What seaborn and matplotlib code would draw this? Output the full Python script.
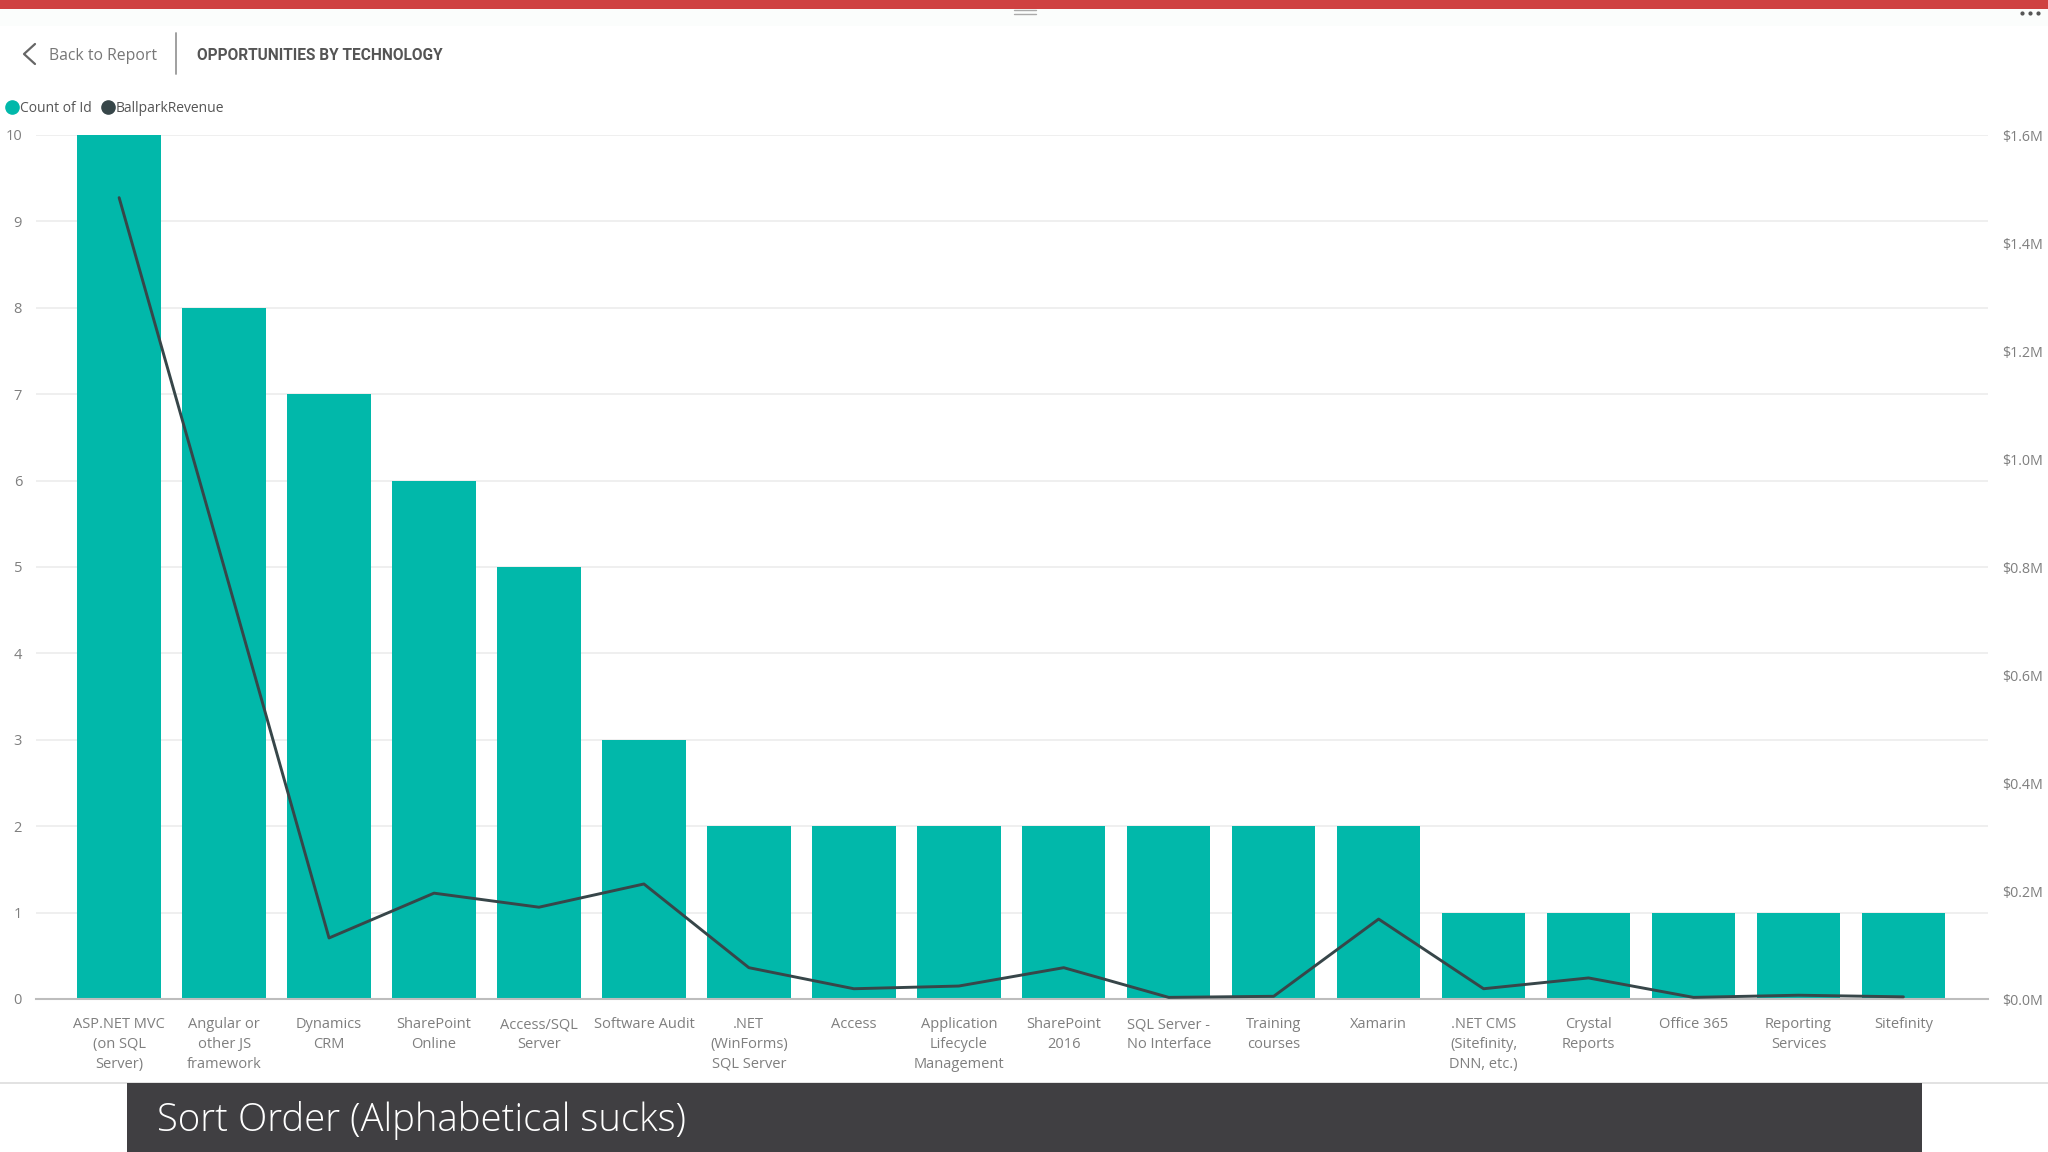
import numpy as np
import pandas as pd
import seaborn as sns
import matplotlib.pyplot as plt
from matplotlib.lines import Line2D
from matplotlib.patches import Rectangle
from matplotlib.ticker import FuncFormatter

# values
technologies = ["ASP.NET MVC\n(on SQL\nServer)", "Angular or\nother JS\nframework", "Dynamics\nCRM",
                "SharePoint\nOnline", "Access/SQL\nServer", "Software Audit", ".NET\n(WinForms)\nSQL Server",
                "Access", "Application\nLifecycle\nManagement", "SharePoint\n2016", "SQL Server -\nNo Interface",
                "Training\ncourses", "Xamarin", ".NET CMS\n(Sitefinity,\nDNN, etc.)", "Crystal\nReports",
                "Office 365", "Reporting\nServices", "Sitefinity"]
count_of_id = [10, 8, 7, 6, 5, 3, 2, 2, 2, 2, 2, 2, 2, 1, 1, 1, 1, 1]
ballpark_revenue = [1.484, 0.80, 0.113, 0.196, 0.17, 0.213, 0.058, 0.019, 0.024, 0.058, 0.003, 0.005,
                    0.148, 0.019, 0.039, 0.003, 0.007, 0.004]
left_ticks = [0, 1, 2, 3, 4, 5, 6, 7, 8, 9, 10]
right_ticks = [0.0, 0.2, 0.4, 0.6, 0.8, 1.0, 1.2, 1.4, 1.6]

TEAL = "#01b8aa"
DARK = "#374649"
GREY = "#7f7f7f"
W, H = 2048, 1152

sns.set_theme(style="white")
plt.rcParams['font.family'] = ['Open Sans', 'DejaVu Sans']

df = pd.DataFrame({"tech": technologies, "count": count_of_id, "revenue": ballpark_revenue})

fig = plt.figure(figsize=(W / 100, H / 100), dpi=100, facecolor="white")
# axes box in pixels: x 36-1988, y 135-999
ax = fig.add_axes([36 / W, 1 - 999 / H, (1988 - 36) / W, (999 - 135) / H])
sns.barplot(data=df, x="tech", y="count", color=TEAL, saturation=1, width=0.795, linewidth=0, ax=ax, zorder=2)
ax.set_xlim(-0.792, 17.806)
ax.set_ylim(0, 10)
ax.set_yticks(left_ticks)
ax.set_xlabel("")
ax.set_ylabel("")
ax.yaxis.grid(True, color="#eeeeee", lw=1.3)
ax.set_axisbelow(True)
ax.tick_params(axis="y", length=0, pad=10, labelsize=10.5, labelcolor=GREY)
ax.tick_params(axis="x", length=0, pad=13, labelsize=10.5, labelcolor=GREY)
for lab in ax.get_xticklabels():
    lab.set_linespacing(1.44)
sns.despine(ax=ax, left=True, right=True, top=True)
ax.spines["bottom"].set_color("#bdbdbd")
ax.spines["bottom"].set_linewidth(1.5)

ax2 = ax.twinx()
sns.lineplot(data=df, x="tech", y="revenue", color=DARK, lw=2.1, ax=ax2, zorder=3, errorbar=None)
ax2.set_ylim(0, 1.6)
ax2.set_yticks(right_ticks)
ax2.yaxis.set_major_formatter(FuncFormatter(lambda v, p: f"${v:.1f}M"))
ax2.set_ylabel("")
ax2.set_xlabel("")
ax2.tick_params(axis="y", length=0, pad=10, labelsize=10.3, labelcolor=GREY)
for lab in ax2.get_yticklabels():
    lab.set_va("center_baseline")
sns.despine(ax=ax2, left=True, right=True, top=True, bottom=True)

legend_handles = [Line2D([], [], ls="", marker="o", ms=9.5, color=TEAL, label="Count of Id"),
                  Line2D([], [], ls="", marker="o", ms=9.5, color=DARK, label="BallparkRevenue")]
fig.legend(handles=legend_handles, loc="center left", bbox_to_anchor=(1 / W, 1 - 108 / H), ncol=2,
           frameon=False, fontsize=10, labelcolor="#555555", handletextpad=-0.05, columnspacing=0.56,
           handlelength=1.2, borderpad=0.2, borderaxespad=0)

# report chrome around the chart
fig.add_artist(Rectangle((0, 1 - 9 / H), 1, 9 / H, transform=fig.transFigure, color="#cf4141", lw=0))
fig.add_artist(Rectangle((0, 1 - 26 / H), 1, 17 / H, transform=fig.transFigure, color="#fbfdfc", lw=0))
fig.add_artist(Rectangle((127 / W, 0), (1922 - 127) / W, (H - 1083) / H, transform=fig.transFigure,
                         color="#403f42", lw=0))


def px_line(xs, ys, **kw):
    fig.add_artist(Line2D([x / W for x in xs], [1 - y / H for y in ys], transform=fig.transFigure, **kw))


px_line([0, 2048], [1083, 1083], color="#dddddd", lw=1.2, zorder=0)
px_line([35, 24, 35], [44, 54, 64], color="#666666", lw=1.6)
px_line([176, 176], [33, 74], color="#999999", lw=1.3)
px_line([1014, 1036], [10, 10], color="#aaaaaa", lw=1)
px_line([1014, 1036], [14, 14], color="#aaaaaa", lw=1)
px_line([2022, 2030, 2038], [13, 13, 13], ls="", marker="o", ms=2, color="#555555")

fig.text(49 / W, 1 - 56 / H, "Back to Report", fontsize=11.3, color="#777777", va="center")
fig.text(197 / W, 1 - 55 / H, "OPPORTUNITIES BY TECHNOLOGY", fontsize=11.2, color="#555555", va="center",
         family="Roboto", weight="bold")
fig.text(157 / W, 1 - 1121 / H, "Sort Order (Alphabetical sucks)", fontsize=27.6, color="white", va="center",
         weight="light")

fig.savefig("out.png", dpi=100)
